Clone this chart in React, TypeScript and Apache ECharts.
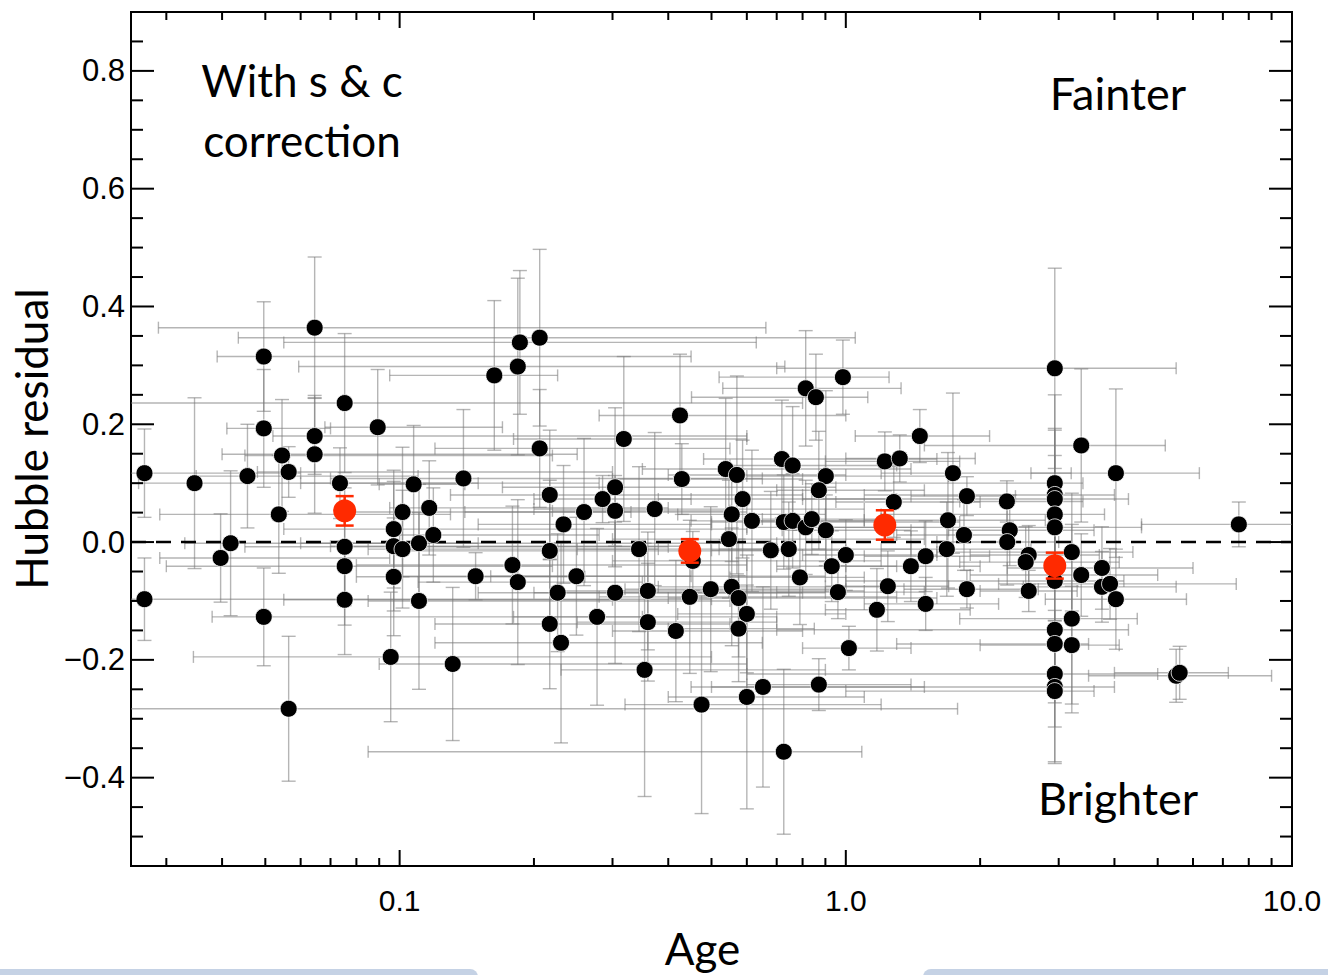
import React, { useEffect, useRef } from "react";
import * as echarts from "echarts";

// ---- black points (age, Hubble residual) with error bars ----
const ages = [
  0.0268, 0.0268, 0.0347, 0.0397, 0.0418, 0.0456, 0.0496, 0.0496, 0.0496, 0.0536,
  0.0545, 0.0564, 0.0564, 0.0645, 0.0645, 0.0645, 0.0753, 0.0735, 0.0753, 0.0753,
  0.0753, 0.0893, 0.0955, 0.097, 0.097, 0.097, 0.1015, 0.1015, 0.1075, 0.1105,
  0.1105, 0.1165, 0.119, 0.139, 0.1315, 0.163, 0.186, 0.184, 0.206, 0.206,
  0.217, 0.217, 0.233, 0.249, 0.259, 0.285, 0.304, 0.304, 0.318, 0.344,
  0.373, 0.425, 0.429, 0.454, 0.538, 0.57, 0.587, 0.555, 0.547, 0.616,
  0.679, 0.719, 0.76, 0.726, 0.76, 0.745, 0.813, 0.857, 0.813, 0.839,
  0.902, 0.87, 0.902, 0.985, 1.0, 0.93, 0.789, 0.148, 0.179, 0.184,
  0.226, 0.217, 0.23, 0.277, 0.304, 0.36, 0.36, 0.354, 0.416, 0.447,
  0.498, 0.555, 0.575, 0.6, 0.575, 0.475, 0.6, 0.652, 0.726, 0.87,
  0.96, 1.016, 1.174, 1.465, 1.223, 1.321, 1.738, 1.868, 1.281, 1.694,
  1.84, 1.684, 1.51, 1.399, 1.242, 1.868, 1.51, 2.296, 2.33, 2.3,
  2.57, 2.53, 2.57, 2.94, 2.94, 2.94, 2.94, 2.94, 2.94, 2.94,
  2.94, 2.94, 2.94, 2.94, 2.94, 3.37, 3.21, 3.37, 3.75, 3.75,
  3.91, 4.03, 4.03, 7.6, 3.21, 3.21, 5.5, 5.6,
];
const residuals = [
  0.117, -0.097, 0.1, -0.027, -0.002, 0.112, 0.315, 0.193, -0.127, 0.047,
  0.147, 0.119, -0.283, 0.364, 0.18, 0.149, 0.236, 0.1, -0.008, -0.041,
  -0.098, 0.195, -0.195, 0.022, -0.007, -0.059, 0.051, -0.012, 0.098, -0.002,
  -0.1, 0.058, 0.012, 0.108, -0.207, 0.283, 0.339, 0.298, 0.347, 0.159,
  0.08, -0.015, 0.03, -0.058, 0.051, 0.073, 0.093, 0.053, 0.175, -0.012,
  0.056, 0.215, 0.107, -0.032, 0.124, 0.114, 0.073, 0.047, 0.005, 0.036,
  -0.014, 0.141, 0.13, 0.034, 0.036, -0.012, 0.261, 0.246, 0.025, 0.039,
  0.112, 0.088, 0.02, 0.28, -0.022, -0.041, -0.06, -0.058, -0.039, -0.068,
  -0.086, -0.139, -0.171, -0.127, -0.086, -0.083, -0.136, -0.217, -0.151, -0.093,
  -0.08, -0.076, -0.095, -0.122, -0.147, -0.276, -0.263, -0.246, -0.356, -0.242,
  -0.085, -0.18, -0.115, 0.18, 0.137, 0.142, 0.117, 0.078, 0.068, 0.037,
  0.012, -0.012, -0.024, -0.041, -0.075, -0.08, -0.105, 0.069, 0.02, 0.0,
  -0.022, -0.034, -0.083, 0.295, 0.1, 0.08, 0.073, 0.047, 0.025, -0.066,
  -0.149, -0.173, -0.224, -0.246, -0.253, 0.164, -0.017, -0.056, -0.044, -0.076,
  -0.071, 0.117, -0.097, 0.03, -0.13, -0.175, -0.227, -0.222,
];
const ageLow = [
  0.022, 0.022, 0.026, 0.029, 0.033, 0.035, 0.039, 0.041, 0.038, 0.029,
  0.045, 0.048, 0.022, 0.0288, 0.052, 0.04, 0.0235, 0.06, 0.045, 0.03,
  0.055, 0.068, 0.0345, 0.055, 0.07, 0.08, 0.075, 0.085, 0.09, 0.06,
  0.085, 0.095, 0.1, 0.07, 0.09, 0.095, 0.055, 0.0594, 0.0435, 0.12,
  0.13, 0.1, 0.15, 0.16, 0.14, 0.2, 0.17, 0.22, 0.18, 0.25,
  0.2, 0.28, 0.3, 0.3, 0.35, 0.4, 0.38, 0.42, 0.3, 0.45,
  0.5, 0.48, 0.55, 0.5, 0.6, 0.52, 0.53, 0.451, 0.6, 0.65,
  0.6, 0.7, 0.72, 0.52, 0.8, 0.7, 0.55, 0.1, 0.08, 0.11,
  0.15, 0.12, 0.12, 0.18, 0.2, 0.23, 0.25, 0.23, 0.3, 0.28,
  0.32, 0.38, 0.4, 0.42, 0.4, 0.32, 0.4, 0.45, 0.085, 0.6,
  0.7, 0.8, 0.9, 1.05, 0.9, 1.0, 1.2, 1.4, 0.95, 1.1,
  1.3, 1.2, 1.1, 1.0, 0.9, 1.35, 1.1, 1.8, 1.7, 1.6,
  1.9, 1.8, 2.0, 0.7, 0.9, 1.1, 0.8, 1.2, 0.9, 1.0,
  0.7, 1.3, 0.6, 0.5, 1.0, 1.5, 1.6, 1.9, 2.3, 2.5,
  2.2, 2.6, 2.8, 4.6, 1.8, 2.0, 3.5, 4.0,
];
const ageHigh = [
  0.06, 0.5, 0.28, 0.095, 0.15, 0.11, 0.45, 0.07, 0.35, 0.13,
  0.22, 0.3, 1.78, 0.662, 0.6, 0.25, 0.8, 0.15, 0.4, 0.22,
  0.3, 0.17, 0.5, 0.6, 0.45, 0.26, 0.33, 0.38, 0.14, 0.7,
  0.55, 0.4, 0.28, 0.65, 0.6, 0.226, 0.63, 0.73, 1.05, 0.55,
  0.8, 0.7, 0.5, 0.9, 0.6, 0.45, 0.95, 0.55, 0.6, 0.7,
  1.1, 1.0, 0.8, 1.2, 1.4, 1.0, 1.3, 0.9, 1.5, 1.2,
  1.0, 1.6, 1.3, 1.8, 1.1, 1.4, 1.33, 1.12, 1.5, 1.2,
  1.7, 1.5, 1.4, 1.25, 1.6, 1.3, 1.1, 0.45, 0.6, 0.35,
  0.8, 0.55, 0.65, 0.7, 0.9, 1.1, 0.7, 0.9, 0.8, 1.3,
  1.0, 1.2, 1.6, 1.0, 0.85, 1.2, 1.1, 1.5, 1.086, 1.4,
  1.5, 1.4, 1.9, 2.1, 1.8, 1.95, 3.2, 2.4, 2.0, 2.8,
  2.3, 2.6, 2.1, 2.0, 1.7, 2.7, 2.2, 3.4, 3.6, 3.0,
  3.7, 4.1, 3.3, 5.5, 3.4, 4.0, 4.3, 3.8, 4.6, 4.2,
  4.3, 3.5, 5.0, 4.0, 3.6, 5.2, 4.4, 5.0, 6.0, 5.5,
  7.5, 6.2, 5.8, 12.0, 4.5, 4.1, 9.0, 7.2,
];
const residualErr = [
  0.075, 0.07, 0.145, 0.075, 0.123, 0.088, 0.093, 0.1, 0.083, 0.1,
  0.095, 0.043, 0.123, 0.12, 0.065, 0.1, 0.118, 0.06, 0.1, 0.1,
  0.093, 0.098, 0.11, 0.1, 0.11, 0.1, 0.11, 0.1, 0.1, 0.1,
  0.15, 0.08, 0.08, 0.117, 0.13, 0.127, 0.122, 0.15, 0.15, 0.1,
  0.11, 0.12, 0.1, 0.1, 0.125, 0.04, 0.135, 0.06, 0.14, 0.14,
  0.13, 0.104, 0.06, 0.05, 0.12, 0.168, 0.1, 0.08, 0.1, 0.12,
  0.1, 0.1, 0.1, 0.08, 0.08, 0.08, 0.098, 0.073, 0.08, 0.06,
  0.145, 0.1, 0.06, 0.063, 0.06, 0.06, 0.08, 0.04, 0.1, 0.14,
  0.1, 0.11, 0.17, 0.15, 0.12, 0.1, 0.1, 0.215, 0.12, 0.13,
  0.14, 0.1, 0.1, 0.1, 0.09, 0.185, 0.19, 0.17, 0.14, 0.044,
  0.045, 0.037, 0.07, 0.045, 0.05, 0.04, 0.136, 0.033, 0.06, 0.115,
  0.06, 0.08, 0.06, 0.06, 0.06, 0.032, 0.045, 0.035, 0.06, 0.073,
  0.05, 0.06, 0.035, 0.17, 0.15, 0.11, 0.12, 0.1, 0.08, 0.1,
  0.1, 0.1, 0.09, 0.13, 0.12, 0.13, 0.1, 0.07, 0.07, 0.06,
  0.06, 0.143, 0.085, 0.038, 0.16, 0.1, 0.045, 0.045,
];

// ---- binned means (red) ----
const binAges = [0.0753, 0.447, 1.223, 2.94];
const binResiduals = [0.053, -0.015, 0.029, -0.04];
const binErr = [0.025, 0.02, 0.025, 0.022];

// ---- axes ----
const xMin = 0.025;
const xMax = 10;
const yMin = -0.55;
const yMax = 0.9;
const xLabelValues = [0.1, 1, 10];
const xMinorTicks = [0.03, 0.04, 0.05, 0.06, 0.07, 0.08, 0.09, 0.2, 0.3, 0.4, 0.5, 0.6, 0.7, 0.8, 0.9, 2, 3, 4, 5, 6, 7, 8, 9];
const yLabelValues = [-0.4, -0.2, 0, 0.2, 0.4, 0.6, 0.8];
const yMinorTicks = [-0.5, -0.45, -0.35, -0.3, -0.25, -0.15, -0.1, -0.05, 0.05, 0.1, 0.15, 0.25, 0.3, 0.35, 0.45, 0.5, 0.55, 0.65, 0.7, 0.75, 0.85];

const LABEL_FONT = "'Liberation Sans', Arial, Helvetica, sans-serif";
const TEXT_FONT = "Lato, 'Noto Sans', sans-serif";

function makeErrRender(color: string, width: number, capHalf: number, drawX: boolean) {
  return (params: any, api: any) => {
    const cs = params.coordSys;
    const L = cs.x, R = cs.x + cs.width, T = cs.y, B = cs.y + cs.height;
    const a = api.value(0), r = api.value(1);
    const e = api.value(4);
    const c = api.coord([a, r]);
    const top = api.coord([a, r + e]);
    const bot = api.coord([a, r - e]);
    const style = { stroke: color, lineWidth: width };
    const children: any[] = [];
    const seg = (x1: number, y1: number, x2: number, y2: number) =>
      children.push({ type: "line", shape: { x1, y1, x2, y2 }, style });
    const ty = Math.max(top[1], T);
    const by = Math.min(bot[1], B);
    seg(c[0], ty, c[0], by);
    if (top[1] >= T) seg(c[0] - capHalf, top[1], c[0] + capHalf, top[1]);
    if (bot[1] <= B) seg(c[0] - capHalf, bot[1], c[0] + capHalf, bot[1]);
    if (drawX) {
      const lo = api.coord([api.value(2), r]);
      const hi = api.coord([api.value(3), r]);
      const lx = Math.max(lo[0], L);
      const rx = Math.min(hi[0], R);
      seg(lx, c[1], rx, c[1]);
      if (lo[0] >= L) seg(lo[0], c[1] - 6, lo[0], c[1] + 6);
      if (hi[0] <= R) seg(hi[0], c[1] - 6, hi[0], c[1] + 6);
    }
    return { type: "group", children };
  };
}

function tickRender(params: any, api: any) {
  const cs = params.coordSys;
  const L = cs.x, R = cs.x + cs.width, T = cs.y, B = cs.y + cs.height;
  const kind = api.value(2);
  const style = { stroke: "#000", lineWidth: 2 };
  const children: any[] = [];
  if (kind === 0 || kind === 1) {
    const px = api.coord([api.value(0), 0])[0];
    const len = kind === 0 ? 16 : 8;
    children.push({ type: "line", shape: { x1: px, y1: B, x2: px, y2: B - len }, style });
    children.push({ type: "line", shape: { x1: px, y1: T, x2: px, y2: T + len }, style });
  } else {
    const py = api.coord([1, api.value(1)])[1];
    const len = kind === 2 ? 23 : 12;
    children.push({ type: "line", shape: { x1: L, y1: py, x2: L + len, y2: py }, style });
    children.push({ type: "line", shape: { x1: R, y1: py, x2: R - len, y2: py }, style });
  }
  return { type: "group", children };
}

export default function App() {
  const ref = useRef<HTMLDivElement>(null);
  useEffect(() => {
    const chart = echarts.init(ref.current!, null, { renderer: "svg" });
    const blackData = ages.map((a, i) => [a, residuals[i], ageLow[i], ageHigh[i], residualErr[i]]);
    const redData = binAges.map((a, i) => [a, binResiduals[i], a, a, binErr[i]]);
    const tickData = [
      ...xLabelValues.map((v) => [v, 0, 0]),
      ...xMinorTicks.map((v) => [v, 0, 1]),
      ...yLabelValues.map((v) => [1, v, 2]),
      ...yMinorTicks.map((v) => [1, v, 3]),
    ];
    chart.setOption({
      animation: false,
      grid: {
        left: 131,
        right: 36,
        top: 12,
        bottom: 106,
        show: true,
        borderColor: "#000",
        borderWidth: 2,
        backgroundColor: "transparent",
      },
      xAxis: {
        type: "log",
        logBase: 10,
        min: xMin,
        max: xMax,
        name: "Age",
        nameLocation: "middle",
        nameGap: 60,
        nameTextStyle: { fontFamily: TEXT_FONT, fontSize: 44, color: "#000", padding: [0, 18, 0, 0] },
        axisLine: { show: false },
        axisTick: { show: false },
        splitLine: { show: false },
        minorTick: { show: false },
        axisLabel: {
          customValues: xLabelValues,
          formatter: (v: number) => Number(v).toFixed(1),
          fontFamily: LABEL_FONT,
          fontSize: 30,
          color: "#000",
          margin: 19,
        },
      },
      yAxis: {
        type: "value",
        min: yMin,
        max: yMax,
        name: "Hubble residual",
        nameLocation: "middle",
        nameRotate: 90,
        nameGap: 76,
        nameTextStyle: { fontFamily: TEXT_FONT, fontSize: 44, color: "#000" },
        axisLine: { show: false },
        axisTick: { show: false },
        splitLine: { show: false },
        axisLabel: {
          customValues: yLabelValues,
          formatter: (v: number) => (v < -1e-9 ? "\u2212" : "") + Math.abs(v).toFixed(1),
          fontFamily: LABEL_FONT,
          fontSize: 31,
          color: "#000",
          margin: 6,
        },
      },
      graphic: [
        { type: "rect", left: -10, top: 969, shape: { width: 488, height: 20, r: 8 }, style: { fill: "#c5d2e5" }, z: 0 },
        { type: "rect", left: 923, top: 969, shape: { width: 420, height: 20, r: 8 }, style: { fill: "#c5d2e5" }, z: 0 },
        { type: "text", x: 302, y: 80, style: { text: "With s & c", font: `44px ${TEXT_FONT}`, fill: "#000", textAlign: "center", textVerticalAlign: "middle" }, z: 10 },
        { type: "text", x: 302, y: 140, style: { text: "correction", font: `44px ${TEXT_FONT}`, fill: "#000", textAlign: "center", textVerticalAlign: "middle" }, z: 10 },
        { type: "text", x: 1118, y: 93, style: { text: "Fainter", font: `45px ${TEXT_FONT}`, fill: "#000", textAlign: "center", textVerticalAlign: "middle" }, z: 10 },
        { type: "text", x: 1118, y: 798, style: { text: "Brighter", font: `45px ${TEXT_FONT}`, fill: "#000", textAlign: "center", textVerticalAlign: "middle" }, z: 10 },
      ],
      series: [
        {
          type: "custom",
          name: "errors",
          renderItem: makeErrRender("rgba(120,120,120,0.55)", 1.4, 7, true),
          data: blackData,
          encode: { x: 0, y: 1 },
          clip: false,
          z: 1,
          silent: true,
        },
        {
          type: "line",
          name: "zero",
          data: [[xMin, 0], [xMax, 0]],
          symbol: "none",
          lineStyle: { color: "#000", width: 2.5, type: [15, 10] },
          z: 2,
          silent: true,
        },
        {
          type: "scatter",
          name: "SNe",
          data: blackData.map((d) => [d[0], d[1]]),
          symbol: "circle",
          symbolSize: 17,
          itemStyle: { color: "#000", borderColor: "#fff", borderWidth: 0.8, opacity: 1 },
          z: 3,
        },
        {
          type: "custom",
          name: "binErrors",
          renderItem: makeErrRender("#ff2a00", 2.5, 9, false),
          data: redData,
          encode: { x: 0, y: 1 },
          clip: false,
          z: 4,
          silent: true,
        },
        {
          type: "scatter",
          name: "Binned",
          data: redData.map((d) => [d[0], d[1]]),
          symbol: "circle",
          symbolSize: 23,
          itemStyle: { color: "#ff2a00", opacity: 1 },
          z: 5,
        },
        {
          type: "custom",
          name: "ticks",
          renderItem: tickRender,
          data: tickData,
          encode: { x: 0, y: 1 },
          clip: false,
          z: 6,
          silent: true,
        },
      ],
    });
    return () => chart.dispose();
  }, []);
  return <div ref={ref} style={{ position: "absolute", left: 0, top: 0, width: 1328, height: 975 }} />;
}
